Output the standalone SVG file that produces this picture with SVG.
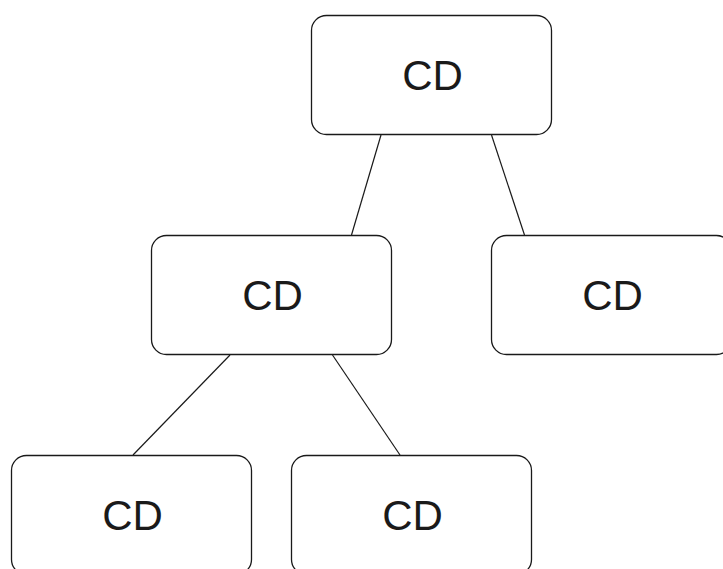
<svg xmlns="http://www.w3.org/2000/svg" width="723" height="569" viewBox="0 0 723 569">
  <style>
    .box { fill: #ffffff; stroke: #1a1a1a; stroke-width: 1.3; }
    .label { font-family: "Liberation Sans", Arial, sans-serif; font-size: 42px; fill: #1a1a1a; text-anchor: middle; }
    .edge { stroke: #1a1a1a; stroke-width: 1.2; fill: none; }
  </style>
  <rect width="723" height="569" fill="#ffffff"/>
  <g id="connectors">
    <line class="edge" x1="381" y1="135" x2="351.5" y2="235"/>
    <line class="edge" x1="491.5" y1="135" x2="524.5" y2="235"/>
    <line class="edge" x1="230" y1="355" x2="133" y2="455"/>
    <line class="edge" x1="332.5" y1="355" x2="400" y2="455"/>
  </g>
  <g id="node-root">
    <rect class="box" x="311.5" y="15.5" width="240" height="119" rx="15" ry="15"/>
    <text class="label" x="432.5" y="89.5">CD</text>
  </g>
  <g id="node-left">
    <rect class="box" x="151.5" y="235.5" width="240" height="119" rx="15" ry="15"/>
    <text class="label" x="272.5" y="309.5">CD</text>
  </g>
  <g id="node-right">
    <rect class="box" x="491.5" y="235.5" width="240" height="119" rx="15" ry="15"/>
    <text class="label" x="612.5" y="309.5">CD</text>
  </g>
  <g id="node-left-left">
    <rect class="box" x="11.5" y="455.5" width="240" height="119" rx="15" ry="15"/>
    <text class="label" x="132.5" y="529.5">CD</text>
  </g>
  <g id="node-left-right">
    <rect class="box" x="291.5" y="455.5" width="240" height="119" rx="15" ry="15"/>
    <text class="label" x="412.5" y="529.5">CD</text>
  </g>
</svg>
